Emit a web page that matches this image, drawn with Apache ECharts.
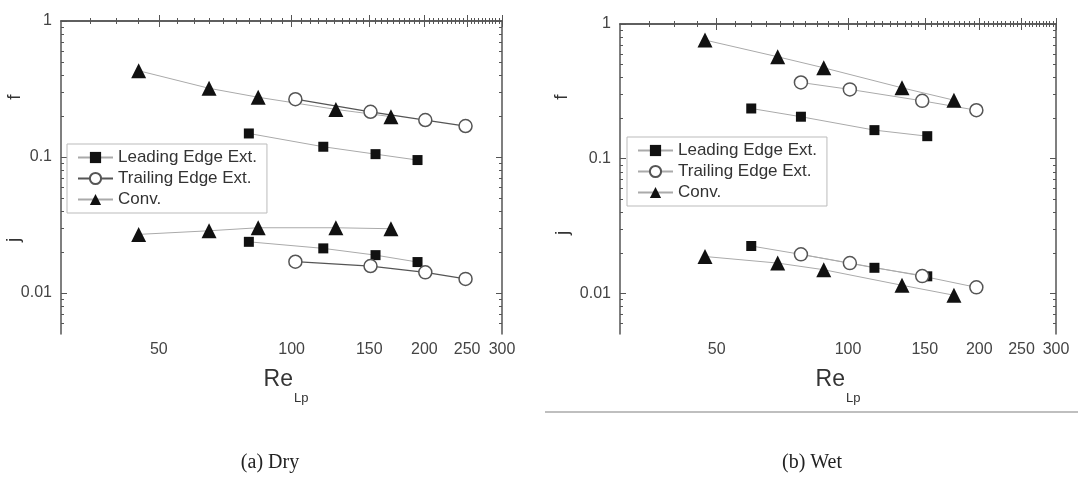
<!DOCTYPE html>
<html>
<head>
<meta charset="utf-8">
<script src="https://cdn.jsdelivr.net/npm/echarts@6/dist/echarts.min.js"></script>
<style>
  html, body { margin: 0; padding: 0; background: #fff; }
  #wrap { position: relative; width: 1078px; height: 487px; }
  #dry { position: absolute; left: 0; top: 0; width: 540px; height: 487px; }
  #wet { position: absolute; left: 540px; top: 0; width: 538px; height: 487px; }
</style>
</head>
<body>
<div id="wrap"><div id="dry"></div><div id="wet"></div></div>
<script>
// Re_Lp and f / j values
const dryLeadRe = [80, 118, 155, 193]
const dryLeadF = [0.149, 0.119, 0.105, 0.095]
const dryLeadJ = [0.0238, 0.0213, 0.019, 0.0169]
const dryTrailRe = [102, 151, 201, 248]
const dryTrailF = [0.266, 0.215, 0.187, 0.169]
const dryTrailJ = [0.017, 0.0158, 0.0142, 0.0127]
const dryConvRe = [45, 65, 84, 126, 168]
const dryConvF = [0.431, 0.32, 0.275, 0.224, 0.198]
const dryConvJ = [0.027, 0.0287, 0.0302, 0.0302, 0.0297]

const wetLeadRe = [60, 78, 115, 152]
const wetLeadF = [0.236, 0.205, 0.163, 0.147]
const wetLeadJ = [0.0225, 0.0195, 0.0155, 0.0134]
const wetTrailRe = [78, 101, 148, 197]
const wetTrailF = [0.368, 0.327, 0.269, 0.229]
const wetTrailJ = [0.0195, 0.0168, 0.01345, 0.0111]
const wetConvRe = [47, 69, 88, 133, 175]
const wetConvF = [0.76, 0.571, 0.473, 0.336, 0.272]
const wetConvJ = [0.0188, 0.0168, 0.015, 0.0115, 0.0097]

const seriesNames = ['Leading Edge Ext.', 'Trailing Edge Ext.', 'Conv.']
const xTickLabels = [50, 100, 150, 200, 250, 300]
const yTickLabels = [0.01, 0.1, 1]
const xRange = [30, 300]
const yRange = [0.005, 1]

const lg = Math.log10
const FONT = 'Liberation Sans, Arial, sans-serif'
const AXIS_COLOR = '#555'

// minor ticks: every 5 on x, every unit of the decade on y
const xMinor = []
for (let v = 35; v < 300; v += 5) if (v % 50 !== 0) xMinor.push(v)
const yMinor = []
;[0.001, 0.01, 0.1].forEach((d) => {
  for (let k = 2; k <= 9; k++) if (d * k > yRange[0]) yMinor.push(+(d * k).toPrecision(3))
})

function makeAxes(dim, range, major, minor, labelFmt, labelMargin) {
  const pos = dim === 'x' ? ['bottom', 'top'] : ['left', 'right']
  const base = {
    type: 'value',
    min: lg(range[0]),
    max: lg(range[1]),
    splitLine: { show: false },
    axisLine: { show: true, lineStyle: { color: AXIS_COLOR, width: 1.5 } }
  }
  const axes = []
  pos.forEach((p, i) => {
    axes.push({
      ...base,
      position: p,
      axisTick: { inside: true, length: 6, customValues: major.map(lg), lineStyle: { color: AXIS_COLOR } },
      axisLabel: i === 0
        ? { customValues: major.map(lg), formatter: labelFmt, margin: labelMargin,
            fontFamily: FONT, fontSize: 16, color: '#444' }
        : { show: false }
    })
    axes.push({
      ...base,
      position: p,
      axisLine: { show: false },
      axisTick: { inside: true, length: 3, customValues: minor.map(lg), lineStyle: { color: AXIS_COLOR } },
      axisLabel: { show: false }
    })
  })
  return axes
}

function toPoints(xs, ys) {
  return xs.map((x, i) => [lg(x), lg(ys[i])])
}

function buildOption(cfg) {
  const lead = {
    type: 'line', name: seriesNames[0], symbol: 'rect', symbolSize: 10,
    itemStyle: { color: '#111' }, lineStyle: { color: '#aaa', width: 1 }
  }
  const trail = {
    type: 'line', name: seriesNames[1], symbol: 'circle', symbolSize: 13,
    itemStyle: { color: '#fff', borderColor: '#555', borderWidth: 1.5 },
    lineStyle: { color: cfg.trailLine, width: cfg.trailWidth }
  }
  const conv = {
    type: 'line', name: seriesNames[2], symbol: 'triangle', symbolSize: 15,
    itemStyle: { color: '#111' }, lineStyle: { color: '#aaa', width: 1 }
  }
  const d = cfg.data
  return {
    animation: false,
    grid: cfg.grid,
    xAxis: makeAxes('x', xRange, xTickLabels, xMinor,
      (v) => String(Math.round(Math.pow(10, v))), 8),
    yAxis: makeAxes('y', yRange, yTickLabels, yMinor,
      (v) => String(+Math.pow(10, v).toPrecision(4)), 9),
    legend: {
      orient: 'vertical',
      left: cfg.legendLeft,
      top: cfg.legendTop,
      data: seriesNames,
      itemWidth: 35,
      itemHeight: 14,
      itemGap: 4,
      padding: [5, 10, 5, 10],
      borderColor: '#bbb',
      borderWidth: 1,
      textStyle: { fontFamily: FONT, fontSize: 17, color: '#333' }
    },
    series: [
      { ...lead, data: toPoints(d.leadRe, d.leadF) },
      { ...lead, data: toPoints(d.leadRe, d.leadJ) },
      { ...conv, data: toPoints(d.convRe, d.convF) },
      { ...conv, data: toPoints(d.convRe, d.convJ) },
      { ...trail, data: toPoints(d.trailRe, d.trailF) },
      { ...trail, data: toPoints(d.trailRe, d.trailJ) }
    ],
    graphic: cfg.graphic
  }
}

function axisTexts(fx, fy, jx, jy, reX, reY, caption) {
  const txt = (x, y, text, font, extra) => ({
    type: 'text', x, y, silent: true, ...extra,
    style: { text, font, fill: '#333', align: 'center', verticalAlign: 'middle',
             textAlign: 'center', textVerticalAlign: 'middle', ...(extra && extra.style) }
  })
  return [
    txt(fx, fy, 'f', '19px ' + FONT, { rotation: Math.PI / 2 }),
    txt(jx, jy, 'j', '19px ' + FONT, { rotation: Math.PI / 2 }),
    txt(reX, reY, 'Re', '23px ' + FONT, { style: { align: 'right', textAlign: 'right' } }),
    txt(reX + 1, reY + 18, 'Lp', '13px ' + FONT, { style: { align: 'left', textAlign: 'left' } }),
    {
      type: 'text', x: caption.x, y: 463, silent: true,
      style: { text: caption.text, font: '20px Liberation Serif, Times New Roman, serif', fill: '#222',
               align: 'center', verticalAlign: 'middle', textAlign: 'center', textVerticalAlign: 'middle' }
    }
  ]
}

const dryChart = echarts.init(document.getElementById('dry'))
dryChart.setOption(buildOption({
  grid: { left: 61, top: 21, width: 441, height: 313 },
  legendLeft: 67,
  legendTop: 144,
  trailLine: '#555',
  trailWidth: 1.3,
  data: {
    leadRe: dryLeadRe, leadF: dryLeadF, leadJ: dryLeadJ,
    trailRe: dryTrailRe, trailF: dryTrailF, trailJ: dryTrailJ,
    convRe: dryConvRe, convF: dryConvF, convJ: dryConvJ
  },
  graphic: axisTexts(15, 97, 14, 240, 293, 380, { x: 270, text: '(a) Dry' })
}))

const wetChart = echarts.init(document.getElementById('wet'))
wetChart.setOption(buildOption({
  grid: { left: 80, top: 24, width: 436, height: 310 },
  legendLeft: 87,
  legendTop: 137,
  trailLine: '#aaa',
  trailWidth: 1,
  data: {
    leadRe: wetLeadRe, leadF: wetLeadF, leadJ: wetLeadJ,
    trailRe: wetTrailRe, trailF: wetTrailF, trailJ: wetTrailJ,
    convRe: wetConvRe, convF: wetConvF, convJ: wetConvJ
  },
  graphic: axisTexts(22, 97, 23, 233, 305, 380, { x: 272, text: '(b) Wet' }).concat([{
    type: 'line', silent: true,
    shape: { x1: 5, y1: 412, x2: 538, y2: 412 },
    style: { stroke: '#aaa', lineWidth: 1.5 }
  }])
}))
</script>
</body>
</html>
